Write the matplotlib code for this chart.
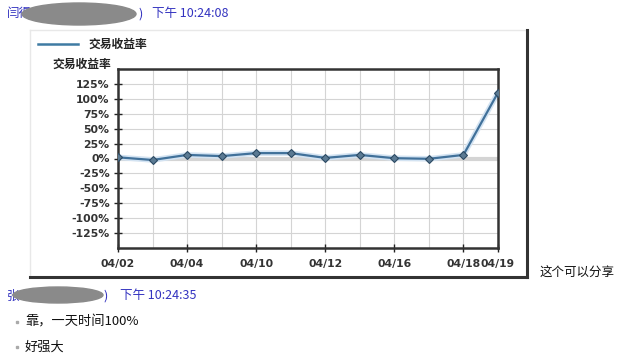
import numpy as np
import matplotlib.pyplot as plt
from matplotlib.patches import Ellipse, Rectangle
from matplotlib.lines import Line2D

plt.rcParams['font.family'] = ['Noto Sans CJK SC', 'DejaVu Sans']

# 数据
dates = ['04/02', '04/03', '04/04', '04/08', '04/10', '04/11',
         '04/12', '04/13', '04/16', '04/17', '04/18', '04/19']
rate = [2, -2.5, 6, 4, 9, 9, 1, 6, 0.5, -0.5, 6, 110.5]
tick_idx = [0, 2, 4, 6, 8, 10, 11]
y_ticks = [-125, -100, -75, -50, -25, 0, 25, 50, 75, 100, 125]
series_name = '交易收益率'

W, H = 619, 360
fig = plt.figure(figsize=(W / 100, H / 100), dpi=100)
fig.patch.set_facecolor('white')

def fx(px):
    return px / W

def fy(py):
    return 1 - py / H

# 卡片边框
card_l, card_t, card_r, card_b = 30, 30, 527, 277
fig.add_artist(Line2D([fx(card_l), fx(card_r)], [fy(card_t), fy(card_t)], color='#e8e8e8', lw=1))
fig.add_artist(Line2D([fx(card_l), fx(card_l)], [fy(card_t), fy(card_b)], color='#e8e8e8', lw=1))
fig.add_artist(Line2D([fx(card_r), fx(card_r)], [fy(card_t), fy(card_b)], color='#333333', lw=2.2))
fig.add_artist(Line2D([fx(card_l), fx(card_r)], [fy(card_b), fy(card_b)], color='#333333', lw=2.2))

# 图表区域
ax = fig.add_axes([fx(118), fy(248), fx(498) - fx(118), (248 - 69) / H])
x = np.arange(len(dates))
ax.axhline(0, color='#d4d4d4', lw=3, zorder=1)
# 线下的浅蓝色阴影
ax.plot(x, rate, color='#d3e3f2', lw=4, solid_capstyle='round', zorder=2)
ax.plot(x, rate, color='#41719a', lw=1.6, marker='D', markersize=4.5,
        markerfacecolor='#5b7a93', markeredgecolor='#2c4a63', markeredgewidth=0.8, zorder=3)

ax.set_xlim(0, len(dates) - 1)
ax.set_ylim(-150, 150)
ax.set_xticks([x[i] for i in tick_idx])
ax.set_xticklabels([dates[i] for i in tick_idx])
ax.set_xticks(x, minor=True)
ax.set_yticks(y_ticks)
ax.set_yticklabels([f'{v}%' for v in y_ticks])
ax.grid(True, which='both', color='#d4d4d4', lw=0.8, zorder=0)
ax.set_axisbelow(True)
ax.tick_params(axis='both', which='major', direction='inout', length=6, width=1, color='#222222',
               labelsize=7.8, labelcolor='#333333', pad=3)
ax.tick_params(axis='x', which='minor', length=0)
ax.tick_params(axis='x', which='major', pad=5)
for lab in ax.get_xticklabels() + ax.get_yticklabels():
    lab.set_fontweight('bold')
    lab.set_family('DejaVu Sans')
for s in ax.spines.values():
    s.set_color('#333333')
    s.set_linewidth(1.8)

# 图例和轴标题
fig.add_artist(Line2D([fx(38), fx(78)], [fy(44), fy(44)], color='#3f7ba3', lw=1.8))
fig.text(fx(88), fy(44), series_name, fontsize=8.5, fontweight='bold', color='#222222', va='center')
fig.text(fx(111), fy(64), series_name, fontsize=8.5, fontweight='bold', color='#222222', va='center', ha='right')

# 聊天文字
blue = '#3333c0'
fig.text(fx(7), fy(14), '闫得', fontsize=9, color=blue, va='center')
fig.add_artist(Ellipse((fx(79), fy(14)), fx(114), 22 / H, color='#8a8a8a', zorder=5))
fig.text(fx(138), fy(14), ')', fontsize=9, color=blue, va='center')
fig.text(fx(152), fy(14), '下午 10:24:08', fontsize=9, color=blue, va='center')

fig.text(fx(7), fy(296), '张', fontsize=9, color=blue, va='center')
fig.add_artist(Ellipse((fx(58), fy(295)), fx(90), 16 / H, color='#8a8a8a', zorder=5))
fig.text(fx(103), fy(296), ')', fontsize=9, color=blue, va='center')
fig.text(fx(120), fy(296), '下午 10:24:35', fontsize=9, color=blue, va='center')

fig.text(fx(540), fy(273), '这个可以分享', fontsize=9, color='#111111', va='center')

fig.add_artist(Rectangle((fx(16), fy(323)), fx(2), 2 / H, color='#aaaaaa'))
fig.text(fx(25), fy(322), '靠，一天时间100%', fontsize=9.5, color='#111111', va='center')
fig.add_artist(Rectangle((fx(16), fy(348)), fx(2), 2 / H, color='#aaaaaa'))
fig.text(fx(25), fy(347), '好强大', fontsize=9.5, color='#111111', va='center')

fig.savefig('out.png', dpi=100)
